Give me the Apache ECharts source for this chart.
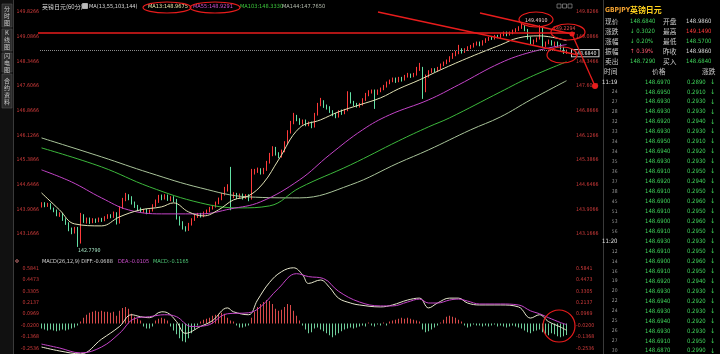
<!DOCTYPE html>
<html>
<head>
<meta charset="utf-8">
<script src="https://cdn.jsdelivr.net/npm/echarts/dist/echarts.min.js"></script>
<style>
html,body{margin:0;padding:0;background:#000;}
#main{width:720px;height:354px;}
</style>
</head>
<body>
<div id="main"></div>
<script>
var NARROW = "'Liberation Sans Narrow','DejaVu Sans Condensed','Noto Sans CJK SC',sans-serif";
var CJK = "'Liberation Sans Narrow','Noto Sans CJK SC',sans-serif";

// 60 min candles: [open, close, low, high]
const candles = [
  [144.00,144.08,143.96,144.12],[144.08,144.02,143.97,144.12],[144.02,144.07,143.98,144.10],[144.07,143.93,143.90,144.09],
  [143.93,143.86,143.82,143.96],[143.86,143.74,143.70,143.90],[143.74,143.78,143.68,143.82],[143.78,143.60,143.56,143.80],
  [143.60,143.48,143.44,143.64],[143.48,143.30,143.25,143.52],[143.30,143.22,143.16,143.36],[143.22,143.34,143.18,143.38],
  [143.34,142.92,142.779,143.38],[142.92,143.72,142.88,143.80],[143.72,143.55,143.50,143.76],[143.55,143.62,143.48,143.66],
  [143.62,143.52,143.47,143.66],[143.52,143.60,143.49,143.64],[143.60,143.55,143.50,143.63],[143.55,143.62,143.52,143.66],
  [143.62,143.58,143.53,143.65],[143.58,143.66,143.55,143.70],[143.66,143.72,143.62,143.76],[143.72,143.68,143.64,143.76],
  [143.68,143.80,143.65,143.84],[143.80,143.50,143.45,143.82],[143.50,143.95,143.48,144.00],[143.95,144.20,143.92,144.25],
  [144.20,144.32,144.15,144.40],[144.32,144.25,144.18,144.36],[144.25,144.10,144.05,144.30],[144.10,144.00,143.95,144.14],
  [144.00,143.92,143.86,144.04],[143.92,143.86,143.82,143.96],[143.86,143.88,143.80,143.92],[143.88,143.80,143.76,143.92],
  [143.80,143.86,143.78,143.90],[143.86,144.02,143.84,144.06],[144.02,144.15,143.98,144.20],[144.15,144.30,144.10,144.34],
  [144.30,144.24,144.18,144.35],[144.24,144.32,144.20,144.36],[144.32,144.20,144.16,144.35],[144.20,144.26,144.15,144.30],
  [144.26,144.18,144.12,144.30],[144.18,143.65,143.60,144.22],[143.65,143.50,143.42,143.70],[143.50,143.36,143.30,143.55],
  [143.36,143.30,143.24,143.40],[143.30,143.46,143.26,143.50],[143.46,143.60,143.42,143.64],[143.60,143.70,143.56,143.74],
  [143.70,143.76,143.65,143.80],[143.76,143.70,143.66,143.80],[143.70,143.80,143.67,143.84],[143.80,143.86,143.76,143.90],
  [143.86,143.95,143.82,143.98],[143.95,144.00,143.90,144.04],[144.00,144.10,143.96,144.14],[144.10,144.22,144.06,144.26],
  [144.22,144.36,144.18,144.40],[144.36,144.50,144.32,144.58],[144.50,144.60,144.44,144.66],[144.55,144.30,143.88,145.18],
  [144.30,144.36,144.24,144.42],[144.36,144.30,144.22,144.40],[144.30,144.34,144.25,144.38],[144.34,144.26,144.20,144.38],
  [144.26,144.32,144.22,144.36],[144.32,144.24,144.15,144.36],[144.24,145.00,144.20,145.12],[145.00,145.06,144.95,145.12],
  [145.06,145.10,145.00,145.16],[145.10,145.00,144.95,145.14],[145.00,145.10,144.96,145.15],[145.10,145.32,145.06,145.36],
  [145.32,145.55,145.28,145.60],[145.55,145.74,145.50,145.80],[145.74,145.58,145.52,145.78],[145.58,145.50,145.44,145.62],
  [145.50,145.66,145.46,145.70],[145.66,145.90,145.62,145.95],[145.90,146.22,145.86,146.28],[146.22,146.50,146.18,146.56],
  [146.50,146.70,146.46,146.80],[146.70,146.60,146.55,146.74],[146.60,146.50,146.44,146.64],[146.50,146.56,146.45,146.60],
  [146.56,146.45,146.40,146.60],[146.45,146.50,146.40,146.54],[146.50,146.40,146.34,146.54],[146.40,146.76,146.36,146.80],
  [146.76,147.05,146.72,147.10],[147.05,147.15,147.00,147.25],[147.15,147.00,146.95,147.18],[147.00,146.95,146.90,147.05],
  [146.95,146.85,146.80,147.00],[146.85,146.76,146.70,146.88],[146.76,146.70,146.64,146.80],[146.70,146.85,146.66,146.88],
  [146.85,146.80,146.74,146.90],[146.80,146.88,146.76,146.92],[146.88,147.38,146.85,147.45],[147.38,147.12,147.08,147.42],
  [147.12,147.05,147.00,147.16],[147.05,147.00,146.96,147.10],[147.00,147.06,146.96,147.10],[147.06,147.20,147.02,147.24],
  [147.20,147.35,147.16,147.40],[147.35,147.42,147.30,147.48],[147.42,147.46,147.38,147.50],[147.46,147.38,146.92,147.50],
  [147.38,147.46,147.34,147.50],[147.46,147.52,147.42,147.56],[147.52,147.60,147.48,147.64],[147.60,147.70,147.56,147.74],
  [147.70,147.76,147.66,147.80],[147.76,147.82,147.72,147.86],[147.82,147.75,147.70,147.86],[147.75,147.85,147.72,147.88],
  [147.85,147.80,147.74,147.88],[147.80,147.90,147.77,147.94],[147.90,147.95,147.86,148.00],[147.95,147.90,147.85,147.98],
  [147.90,147.96,147.87,148.00],[147.96,148.12,147.92,148.18],[148.12,148.16,148.06,148.30],[148.16,147.45,147.22,148.18],
  [147.45,147.90,147.42,147.95],[147.90,148.05,147.86,148.08],[148.05,148.10,148.00,148.14],[148.10,148.08,148.02,148.14],
  [148.08,148.15,148.04,148.18],[148.15,148.25,148.10,148.28],[148.25,148.30,148.20,148.34],[148.30,148.36,148.26,148.40],
  [148.36,148.46,148.32,148.50],[148.46,148.55,148.42,148.60],[148.55,148.60,148.50,148.66],[148.60,148.70,148.56,148.84],
  [148.70,148.64,148.58,148.74],[148.64,148.70,148.60,148.74],[148.70,148.76,148.66,148.80],[148.76,148.80,148.72,148.84],
  [148.80,148.86,148.76,148.90],[148.86,148.90,148.82,148.94],[148.90,148.85,148.80,148.94],[148.85,148.95,148.82,148.98],
  [148.95,149.00,148.90,149.04],[149.00,149.05,148.96,149.08],[149.05,149.04,148.99,149.10],[149.04,149.10,149.00,149.14],
  [149.10,149.09,149.04,149.14],[149.09,149.15,149.05,149.18],[149.15,149.20,149.10,149.24],[149.20,149.15,149.10,149.24],
  [149.15,149.20,149.12,149.24],[149.20,149.26,149.16,149.30],[149.26,149.30,149.22,149.34],[149.30,149.36,149.26,149.40],
  [149.36,149.40,149.32,149.491],[149.40,149.30,149.25,149.44],[149.30,149.05,149.00,149.32],[149.05,148.90,148.86,149.08],
  [148.90,148.95,148.85,149.00],[148.95,149.02,148.92,149.06],[149.02,149.35,149.00,149.43],[149.35,148.82,148.78,149.38],
  [148.82,148.90,148.78,148.94],[148.90,148.95,148.86,149.00],[148.95,148.86,148.82,148.98],[148.86,148.90,148.80,148.94],
  [148.90,148.84,148.78,148.94],[148.84,148.75,148.70,148.88],[148.75,148.60,148.57,148.78],[148.60,148.684,148.57,148.70]
];

// moving averages: [candle index, value]
const ma13 = [[0,144.40],[6,143.89],[11,143.47],[20,143.41],[26,143.68],[33,143.89],[40,143.98],[44,144.10],[49,143.83],
  [54,143.71],[59,143.89],[64,144.19],[69,144.31],[74,144.70],[79,145.39],[86,146.35],[93,146.59],[99,146.83],[106,147.04],
  [113,147.25],[119,147.52],[126,147.79],[133,148.09],[143,148.48],[153,148.84],[159,149.05],[166,149.11],[175,148.9675]];
const ma55 = [[0,145.09],[10,144.73],[20,144.25],[29,143.89],[40,143.77],[53,143.77],[63,143.92],[73,144.13],[86,144.79],
  [96,145.54],[107,146.29],[116,146.74],[129,147.19],[139,147.64],[153,148.30],[163,148.62],[175,148.85]];
const ma103 = [[0,145.75],[20,145.18],[36,144.58],[53,144.10],[66,143.95],[76,144.01],[86,144.55],[103,145.24],[119,145.96],
  [129,146.38],[136,146.65],[153,147.43],[163,147.88],[175,148.333]];
const ma144 = [[0,146.05],[20,145.48],[36,145.00],[53,144.55],[69,144.28],[86,144.25],[103,144.64],[119,145.30],[129,145.69],
  [143,146.29],[153,146.68],[163,147.19],[175,147.765]];

// MACD(26,12,9)
const diff = [[0,-0.24],[6,-0.28],[13,-0.31],[20,-0.16],[26,-0.03],[30,0.09],[33,0.07],[36,0.06],[40,0.12],[42,0.11],[45,0.02],
  [48,-0.10],[53,-0.03],[57,0.03],[62,0.16],[64,0.12],[69,0.09],[72,0.24],[76,0.42],[80,0.53],[84,0.57],[87,0.50],[89,0.41],
  [93,0.445],[96,0.37],[99,0.26],[103,0.21],[106,0.19],[113,0.17],[117,0.19],[122,0.24],[126,0.26],[129,0.16],[132,0.21],
  [136,0.26],[139,0.26],[142,0.21],[146,0.19],[153,0.19],[159,0.17],[163,0.056],[166,0.09],[169,0.02],[173,-0.036],[175,-0.0688]];
const dea = [[0,-0.21],[6,-0.25],[13,-0.30],[20,-0.24],[26,-0.10],[31,0.05],[36,0.07],[41,0.09],[45,0.07],[50,-0.03],[55,-0.02],
  [62,0.10],[69,0.11],[73,0.17],[79,0.36],[85,0.51],[89,0.48],[94,0.46],[99,0.33],[106,0.22],[113,0.18],[117,0.18],[122,0.22],
  [126,0.25],[129,0.21],[132,0.21],[136,0.24],[139,0.25],[142,0.23],[146,0.20],[153,0.20],[159,0.19],[163,0.13],[166,0.10],
  [169,0.06],[173,0.01],[175,-0.0105]];
const macdHist = [
  -0.05,-0.06,-0.07,-0.06,-0.07,-0.08,-0.07,-0.06,-0.07,-0.06,-0.05,-0.04,-0.02,
  0.02,0.06,0.09,0.11,0.12,0.13,0.12,0.13,0.12,0.12,0.11,0.12,0.08,0.13,0.16,0.17,0.15,0.10,0.07,0.05,0.03,
  -0.03,-0.05,-0.05,-0.03,
  0.03,0.05,0.06,0.05,0.03,
  -0.03,-0.07,-0.11,-0.15,-0.18,-0.19,-0.15,
  -0.10,-0.06,-0.02,
  0.02,0.04,0.05,0.06,0.08,0.09,0.10,0.11,0.10,
  0.06,0.03,0.02,
  -0.02,-0.04,-0.04,-0.03,-0.02,
  0.06,0.12,0.17,0.20,0.22,0.24,0.23,0.20,0.15,0.13,0.14,0.17,0.20,0.19,0.13,
  0.08,0.03,-0.02,
  -0.06,-0.10,-0.09,-0.05,-0.04,-0.06,-0.08,-0.10,-0.12,-0.14,-0.12,-0.10,
  -0.08,-0.06,-0.05,-0.04,-0.05,-0.04,-0.03,
  -0.02,-0.03,0.01,-0.02,-0.03,-0.01,-0.02,0.01,-0.02,0.02,
  0.03,0.04,0.05,0.06,0.05,0.06,0.05,0.04,0.03,0.02,
  -0.06,-0.09,-0.08,-0.06,-0.04,-0.02,0.01,
  0.04,0.07,0.08,0.07,0.06,0.04,0.02,
  -0.02,-0.04,-0.03,-0.01,-0.02,
  -0.02,-0.03,-0.02,-0.03,-0.02,-0.01,-0.03,-0.02,-0.03,-0.04,-0.03,-0.02,-0.03,-0.04,-0.05,
  -0.07,-0.09,-0.10,-0.08,-0.07,-0.06,-0.09,-0.11,-0.12,-0.10,-0.11,-0.13,-0.14,-0.13,-0.1165
];

// tick labels
const priceTicks = ['149.8266','149.0866','148.3466','147.6066','146.8666','146.1266','145.3866','144.6466','143.9066','143.1666'];
const macdTicks = ['0.5841','0.4473','0.3305','0.2137','0.0969','-0.0200','-0.1368','-0.2536'];

// header values
const maNames = ['MA13:148.9675','MA55:148.9291','MA103:148.3330','MA144:147.7650'];
const macdNames = ['MACD(26,12,9) DIFF:-0.0688','DEA:-0.0105','MACD:-0.1165'];

// quote panel
const lastPrice = 148.684;
const quoteNames = ['现价','涨跌','涨幅','振幅','卖出'];
const quoteValues = ['148.6840','↓ 0.3020','↓ 0.20%','↑ 0.39%','148.7290'];
const quoteNames2 = ['开盘','最高','最低','昨收','买入'];
const quoteValues2 = ['148.9860','149.1490','148.5700','148.9860','148.6840'];
const tickTimes = ['11:19','24','27','28','32','33','34','34','35','36','37','38','45','51','53','56',
  '11:20','12','14','16','19','20','22','24','25','26','27','30'];
const tickPrices = ['148.6970','148.6950','148.6930','148.6930','148.6920','148.6930','148.6950','148.6940','148.6930',
  '148.6910','148.6920','148.6910','148.6900','148.6910','148.6900','148.6910','148.6930','148.6910','148.6900',
  '148.6910','148.6920','148.6930','148.6940','148.6930','148.6940','148.6930','148.6910','148.6870'];
const tickChanges = ['0.2890','0.2910','0.2930','0.2930','0.2940','0.2930','0.2910','0.2920','0.2930','0.2950',
  '0.2940','0.2950','0.2960','0.2950','0.2960','0.2950','0.2930','0.2950','0.2960','0.2950','0.2940','0.2930',
  '0.2920','0.2930','0.2920','0.2930','0.2950','0.2990'];
const tabs = ['分时图','K线图','闪电图','合约资料'];

const RED = '#ff3a3a', GREEN = '#62e0a4', AXRED = '#cc3a3a', TXTGREEN = '#3fd35a', ANN = '#e81c1c';

// size fonts so that sample strings take the width they take in the screenshot
const mctx = document.createElement('canvas').getContext('2d');
function fit(sample, target, fam) {
    mctx.font = '20px ' + fam;
    return Math.min(9, 20 * target / mctx.measureText(sample).width);
}
const AX = fit('146.1266', 22.5, NARROW);
const NUM = fit('148.6970', 25.5, NARROW);
const HDR = fit('MA13:148.9675', 40, NARROW);
const MTL = fit('MACD(26,12,9) DIFF:-0.0688', 71, NARROW);
const CJ = fit('时间', 13.5, CJK);

var myChart = echarts.init(document.getElementById('main'));
const cats = candles.map(function (c, i) { return String(i); });

let lowIdx = 0, highIdx = 0;
candles.forEach(function (c, i) {
    if (c[2] < candles[lowIdx][2]) lowIdx = i;
    if (c[3] > candles[highIdx][3]) highIdx = i;
});

function pickLabel(list, tol) {
    return function (v) {
        for (let i = 0; i < list.length; i++) {
            if (Math.abs(parseFloat(list[i]) - v) < tol) return list[i];
        }
        return '';
    };
}

function yAx(grid, pos, margin, min, max, interval, list, tol) {
    return {
        type: 'value', gridIndex: grid, position: pos, min: min, max: max, interval: interval,
        axisLine: {show: false}, axisTick: {show: false}, splitLine: {show: false},
        axisLabel: {color: AXRED, fontSize: AX, fontFamily: NARROW, margin: margin, formatter: pickLabel(list, tol)}
    };
}

function maLine(data, color) {
    return {type: 'line', xAxisIndex: 0, yAxisIndex: 0, data: data, smooth: 0.4, symbol: 'none',
        lineStyle: {color: color, width: 1}, silent: true};
}

// ---- graphic: header, panel and hand-drawn marks ----
const g = [];
function txt(x, y, s, fill, size, fam, align, extra, weight) {
    g.push({type: 'text', x: x, y: y, silent: true, z: 50,
        style: Object.assign({text: s, fill: fill, font: (weight ? weight + ' ' : '') + size + 'px ' + fam,
            textAlign: align || 'left', textVerticalAlign: 'middle'}, extra || {})});
}
function ln(x1, y1, x2, y2, color, w, z) {
    g.push({type: 'line', silent: true, z: z || 60, shape: {x1: x1, y1: y1, x2: x2, y2: y2},
        style: {stroke: color, lineWidth: w}});
}
function ell(cx, cy, rx, ry) {
    g.push({type: 'ellipse', silent: true, z: 60, shape: {cx: cx, cy: cy, rx: rx, ry: ry},
        style: {fill: 'none', stroke: ANN, lineWidth: 1.2}});
}

// left tab strip
g.push({type: 'rect', silent: true, shape: {x: 0, y: 0, width: 13, height: 354}, style: {fill: '#111'}});
const tabY = [[4, 27], [29, 51], [53, 72], [74, 108]];
tabs.forEach(function (t, i) {
    g.push({type: 'rect', silent: true, shape: {x: 2, y: tabY[i][0], width: 10, height: tabY[i][1] - tabY[i][0]},
        style: {fill: '#2c2c2c', stroke: '#555', lineWidth: 0.6}});
    txt(7, (tabY[i][0] + tabY[i][1]) / 2, t.split('').join('\n'), '#c8c8c8', 6, CJK, 'center', {lineHeight: 7});
});
ln(13.5, 0, 13.5, 354, '#3a3a3a', 1, 5);
ln(603.5, 0, 603.5, 354, '#3a3a3a', 1, 5);

// main header
txt(42, 6.5, '英镑日元(60分)', '#d8d8d8', 6, CJK);
g.push({type: 'rect', silent: true, z: 50, shape: {x: 82.5, y: 3.5, width: 5, height: 5}, style: {fill: '#bbb', stroke: '#fff', lineWidth: 0.5}});
txt(89, 6.5, 'MA(13,55,103,144)', '#d8d8d8', HDR, NARROW);
const maX = [148, 193, 240, 282];
const maColors = ['#e6e6a8', '#d050d0', '#3cc83c', '#b4bcae'];
maNames.forEach(function (s, i) { txt(maX[i], 6.5, s, maColors[i], HDR, NARROW); });
[557, 562.5, 568].forEach(function (x) {
    g.push({type: 'rect', silent: true, z: 50, shape: {x: x, y: 4, width: 4, height: 4}, style: {fill: 'none', stroke: '#aaa', lineWidth: 0.6}});
});

// MACD header
const macdX = [42, 118, 153];
const macdColors = ['#d4d4d4', '#d050d0', '#50c878'];
macdNames.forEach(function (s, i) { txt(macdX[i], 262, s, macdColors[i], MTL, NARROW); });
g.push({type: 'circle', silent: true, shape: {cx: 17, cy: 261, r: 1.3}, style: {fill: 'none', stroke: '#e08080', lineWidth: 0.8}});

// quote panel
txt(605, 10, 'GBPJPY', '#f0a030', NUM + 0.8, NARROW, 'left', null, 'bold');
txt(630, 10, '英镑日元', '#ffd21e', CJ + 1.2, CJK, 'left', null, 'bold');
const v1Colors = [TXTGREEN, TXTGREEN, TXTGREEN, '#ff5a6e', TXTGREEN];
const v2Colors = ['#d8d8d8', '#ff3c3c', TXTGREEN, '#d8d8d8', TXTGREEN];
quoteNames.forEach(function (s, i) {
    const y = 21 + i * 10;
    txt(605, y, s, '#c8c8c8', CJ, CJK);
    txt(630, y, quoteValues[i], v1Colors[i], NUM, NARROW);
    txt(663, y, quoteNames2[i], '#c8c8c8', CJ, CJK);
    txt(686, y, quoteValues2[i], v2Colors[i], NUM, NARROW);
});
txt(604, 71, '时间', '#c8c8c8', CJ, CJK);
txt(652, 71, '价格', '#c8c8c8', CJ, CJK);
txt(702, 71, '涨跌', '#c8c8c8', CJ, CJK);
tickTimes.forEach(function (t, i) {
    const y = 82 + i * 9.96;
    txt(617.5, y, t, t.length > 2 ? '#e0e0e0' : '#9a9a9a', t.length > 2 ? NUM : NUM - 1, NARROW, 'right');
    txt(645, y, tickPrices[i], TXTGREEN, NUM, NARROW);
    txt(687, y, tickChanges[i], TXTGREEN, NUM, NARROW);
    txt(710, y, '↓', TXTGREEN, 6.5, "'DejaVu Sans',sans-serif");
});

// hand-drawn marks
ln(38, 33, 575, 33, ANN, 1.3);
ln(378, 12, 578, 55, ANN, 1.3);
ln(480, 13, 572, 34, ANN, 1.3);
ln(572, 34, 595, 86, ANN, 1.3);
g.push({type: 'circle', silent: true, z: 61, shape: {cx: 572, cy: 34, r: 2.5}, style: {fill: ANN}});
g.push({type: 'circle', silent: true, z: 61, shape: {cx: 595, cy: 86, r: 3}, style: {fill: ANN}});
ell(536, 19.5, 17, 7.5);
ell(568, 32, 17, 8);
txt(553, 28.5, '149.2294', '#e85050', AX, NARROW);
ell(562, 55, 15, 8);
ell(167, 7.5, 24, 5.5);
ell(215, 7.5, 25, 5.5);
ell(559, 326, 16, 16);

let option = {
    backgroundColor: '#000',
    animation: false,
    grid: [
        {left: 40, width: 528, top: 6.22, height: 252.45, outerBoundsMode: 'none'},
        {left: 40, width: 528, top: 262.9, height: 96.87, outerBoundsMode: 'none'}
    ],
    xAxis: [
        {type: 'category', gridIndex: 0, data: cats, show: false},
        {type: 'category', gridIndex: 1, data: cats, show: false}
    ],
    yAxis: [
        yAx(0, 'left', 1, 142.4266, 150.0, 0.74, priceTicks, 0.05),
        yAx(0, 'right', 8, 142.4266, 150.0, 0.74, priceTicks, 0.05),
        yAx(1, 'left', 1, -0.3704, 0.62, 0.1168, macdTicks, 0.03),
        yAx(1, 'right', 8, -0.3704, 0.62, 0.1168, macdTicks, 0.03)
    ],
    series: [
        maLine(ma144, '#a9c49a'),
        maLine(ma103, '#3cb83c'),
        maLine(ma55, '#c444c8'),
        maLine(ma13, '#e2e2b4'),
        {
            type: 'candlestick', xAxisIndex: 0, yAxisIndex: 0, data: candles, barWidth: 1, silent: true,
            itemStyle: {color: RED, color0: GREEN, borderColor: RED, borderColor0: GREEN, borderWidth: 1},
            markLine: {
                silent: true, symbol: ['none', 'none'],
                lineStyle: {color: '#8c8c8c', type: 'dotted', width: 1},
                label: {show: true, position: 'end', formatter: lastPrice.toFixed(4), color: '#e8e8e8',
                    fontSize: AX, fontFamily: NARROW, backgroundColor: '#000', borderColor: '#d0d0d0',
                    borderWidth: 1, padding: [1, 2, 0, 2], distance: 4, offset: [0, 3]},
                data: [{yAxis: lastPrice}]
            },
            markPoint: {
                silent: true, symbol: 'circle', symbolSize: 1, itemStyle: {color: 'rgba(0,0,0,0)'},
                label: {show: true, fontSize: AX, fontFamily: NARROW},
                data: [
                    {coord: [lowIdx, candles[lowIdx][2]],
                        label: {formatter: candles[lowIdx][2].toFixed(4), color: '#a4e6c4', position: 'right', distance: 0, offset: [0, 4]}},
                    {coord: [highIdx, candles[highIdx][3]],
                        label: {formatter: candles[highIdx][3].toFixed(4), color: '#f2cccc', position: 'right', distance: 0, offset: [3, -3]}}
                ]
            }
        },
        {
            type: 'bar', xAxisIndex: 1, yAxisIndex: 2, data: macdHist, barWidth: 1, silent: true,
            itemStyle: {color: function (p) { return p.value >= 0 ? '#d84a4a' : '#6fcf9c'; }}
        },
        {type: 'line', xAxisIndex: 1, yAxisIndex: 2, data: diff, smooth: 0.4, symbol: 'none', silent: true,
            lineStyle: {color: '#e6e6cc', width: 1}},
        {type: 'line', xAxisIndex: 1, yAxisIndex: 2, data: dea, smooth: 0.4, symbol: 'none', silent: true,
            lineStyle: {color: '#c444c8', width: 1}}
    ],
    graphic: g
};

myChart.setOption(option);
</script>
</body>
</html>
